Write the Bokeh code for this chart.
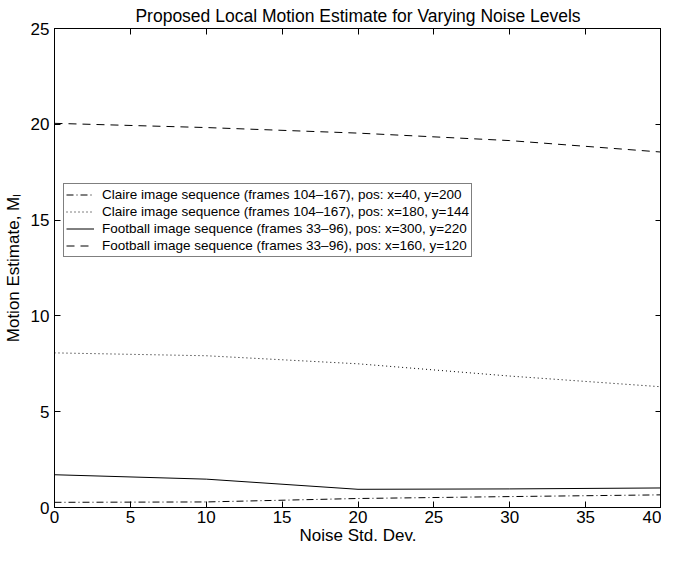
from bokeh.plotting import figure
from bokeh.models import Range1d, LinearAxis, Legend, LegendItem, FixedTicker
from bokeh.embed import file_html
from bokeh.resources import INLINE

noise = [0, 10, 20, 30, 40]
claire_a = [0.27, 0.29, 0.47, 0.57, 0.66]
claire_b = [8.07, 7.92, 7.5, 6.86, 6.3]
football_a = [1.71, 1.48, 0.95, 0.97, 1.02]
football_b = [20.05, 19.83, 19.54, 19.15, 18.55]
series_labels = [
    "Claire image sequence (frames 104\u2013167), pos: x=40, y=200",
    "Claire image sequence (frames 104\u2013167), pos: x=180, y=144",
    "Football image sequence (frames 33\u201396), pos: x=300, y=220",
    "Football image sequence (frames 33\u201396), pos: x=160, y=120",
]
x_ticks = [0, 5, 10, 15, 20, 25, 30, 35, 40]
y_ticks = [0, 5, 10, 15, 20, 25]

FONT = "Liberation Sans"

p = figure(width=661, height=547, output_backend="svg", toolbar_location=None,
           x_range=Range1d(0, 40), y_range=Range1d(0, 25),
           min_border_left=44, min_border_right=0, min_border_top=0, min_border_bottom=0)

p.title.text = "Proposed Local Motion Estimate for Varying Noise Levels"
p.title.align = "center"
p.title.text_font = FONT
p.title.text_font_size = "17.5px"
p.title.text_font_style = "normal"
p.title.text_color = "black"
p.title.standoff = 6
p.title.offset = 8

p.grid.visible = False
p.outline_line_color = "black"
p.outline_line_width = 1
p.background_fill_color = "white"
p.border_fill_color = "white"

for ax, ticks in ((p.xaxis[0], x_ticks), (p.yaxis[0], y_ticks)):
    ax.ticker = FixedTicker(ticks=ticks)
    ax.major_tick_in = 6
    ax.major_tick_out = 0
    ax.minor_tick_line_color = None
    ax.axis_line_color = "black"
    ax.major_tick_line_color = "black"
    ax.major_label_text_font = FONT
    ax.major_label_text_font_size = "17px"
    ax.major_label_text_color = "black"
    ax.axis_label_text_font = FONT
    ax.axis_label_text_font_size = "17px"
    ax.axis_label_text_font_style = "normal"
    ax.axis_label_text_color = "black"

p.xaxis[0].axis_label = "Noise Std. Dev."
p.xaxis[0].major_label_standoff = 3
p.xaxis[0].axis_label_standoff = 0
p.yaxis[0].axis_label = "Motion Estimate, M\u2097"
p.yaxis[0].major_label_standoff = 5
p.yaxis[0].axis_label_standoff = 5

top = LinearAxis(ticker=FixedTicker(ticks=x_ticks), major_tick_in=6, major_tick_out=0,
                 minor_tick_line_color=None, major_label_text_font_size="1px",
                 major_label_text_color=None, major_label_standoff=0,
                 axis_line_color="black")
right = LinearAxis(ticker=FixedTicker(ticks=y_ticks), major_tick_in=6, major_tick_out=0,
                   minor_tick_line_color=None, major_label_text_font_size="1px",
                   major_label_text_color=None, major_label_standoff=0,
                   axis_line_color="black")
p.add_layout(top, "above")
p.add_layout(right, "right")

r1 = p.line(noise, claire_a, line_color="black", line_width=1, line_dash="7 3 1 3")
r2 = p.line(noise, claire_b, line_color="black", line_width=1, line_dash="1 3")
r3 = p.line(noise, football_a, line_color="black", line_width=1)
r4 = p.line(noise, football_b, line_color="black", line_width=1, line_dash="8 6")

legend = Legend(items=[LegendItem(label=lab, renderers=[r]) for lab, r in
                       zip(series_labels, [r1, r2, r3, r4])],
                location=(9, 250), orientation="vertical")
legend.label_text_font = FONT
legend.label_text_font_size = "13.5px"
legend.label_text_color = "black"
legend.label_height = 17
legend.glyph_height = 17
legend.glyph_width = 28
legend.label_standoff = 8
legend.spacing = 0
legend.padding = 2
legend.margin = 0
legend.border_line_color = "black"
legend.border_line_width = 1
legend.background_fill_alpha = 1
p.add_layout(legend, "center")

open("out.html", "w").write(file_html(p, INLINE))
